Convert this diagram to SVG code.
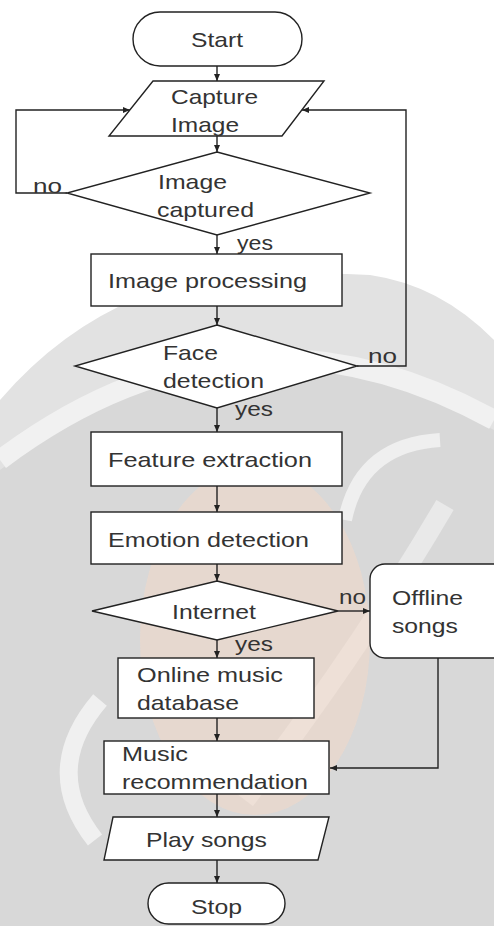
<svg xmlns="http://www.w3.org/2000/svg" width="494" height="926" viewBox="0 0 494 926">
<style>
.t{font-family:"Liberation Sans",Arial,sans-serif;font-size:21px;fill:#333}
.s{fill:#fff;stroke:#222;stroke-width:1.4}
.c{fill:none;stroke:#222;stroke-width:1.4;marker-end:url(#arr)}
</style>
<defs>
<marker id="arr" markerWidth="8" markerHeight="8" refX="7" refY="4" orient="auto" markerUnits="userSpaceOnUse"><path d="M0,1 L7,4 L0,7 Z" fill="#222"/></marker>
</defs>
<rect width="494" height="926" fill="#fff"/>
<g id="watermark">
<path d="M0,400 Q60,330 140,297 Q250,268 370,275 Q440,285 494,340 L494,926 L0,926 Z" fill="#e2e2e2"/>
<path d="M0,470 Q240,290 494,430 L494,926 L0,926 Z" fill="#d8d8d8"/>
<path d="M0,460 Q240,280 494,420" fill="none" stroke="#f1f1f1" stroke-width="20"/>
<path d="M345,520 Q360,445 440,440" fill="none" stroke="#efefef" stroke-width="14"/>
<path d="M445,505 Q360,650 245,800" fill="none" stroke="#e9e9e9" stroke-width="20"/>
<path d="M100,700 Q40,770 95,840" fill="none" stroke="#f0f0f0" stroke-width="18"/>
<ellipse cx="255" cy="640" rx="115" ry="175" fill="#f2d9c8" opacity="0.55"/>
</g>
<g id="connectors">
<path class="c" d="M217,66 V81"/>
<path class="c" d="M217,136 V152"/>
<path class="c" d="M67,193 H16 V110 H130"/>
<path class="c" d="M217,235 V254"/>
<path class="c" d="M217,306 V325"/>
<path class="c" d="M357,366 H406 V110 H302"/>
<path class="c" d="M217,408 V432"/>
<path class="c" d="M217,486 V512"/>
<path class="c" d="M217,564 V581"/>
<path class="c" d="M338,611 H370"/>
<path class="c" d="M217,640 V658"/>
<path class="c" d="M217,718 V741"/>
<path class="c" d="M438,658 V768 H330"/>
<path class="c" d="M217,794 V817"/>
<path class="c" d="M217,860 V883"/>
<text class="t" x="33" y="193" textLength="29" lengthAdjust="spacingAndGlyphs">no</text>
<text class="t" x="237" y="250" textLength="36" lengthAdjust="spacingAndGlyphs">yes</text>
<text class="t" x="368" y="363" textLength="29" lengthAdjust="spacingAndGlyphs">no</text>
<text class="t" x="235" y="416" textLength="38" lengthAdjust="spacingAndGlyphs">yes</text>
<text class="t" x="339" y="604" textLength="27" lengthAdjust="spacingAndGlyphs">no</text>
<text class="t" x="235" y="651" textLength="38" lengthAdjust="spacingAndGlyphs">yes</text>
</g>
<g id="start">
<rect class="s" x="133" y="12" width="169" height="54" rx="27"/>
<text class="t" x="191" y="47" textLength="52" lengthAdjust="spacingAndGlyphs">Start</text>
</g>
<g id="capture">
<polygon class="s" points="153,81 324,81 282,136 109,136"/>
<text class="t" x="171" y="104" textLength="87" lengthAdjust="spacingAndGlyphs">Capture</text>
<text class="t" x="171" y="132" textLength="68" lengthAdjust="spacingAndGlyphs">Image</text>
</g>
<g id="image-captured">
<polygon class="s" points="217,152 370,193 217,235 67,193"/>
<text class="t" x="158" y="189" textLength="69" lengthAdjust="spacingAndGlyphs">Image</text>
<text class="t" x="157" y="217" textLength="97" lengthAdjust="spacingAndGlyphs">captured</text>
</g>
<g id="image-processing">
<rect class="s" x="91" y="254" width="251" height="52"/>
<text class="t" x="108" y="288" textLength="199" lengthAdjust="spacingAndGlyphs">Image processing</text>
</g>
<g id="face-detection">
<polygon class="s" points="217,325 357,366 217,408 75,366"/>
<text class="t" x="163" y="360" textLength="55" lengthAdjust="spacingAndGlyphs">Face</text>
<text class="t" x="163" y="388" textLength="101" lengthAdjust="spacingAndGlyphs">detection</text>
</g>
<g id="feature-extraction">
<rect class="s" x="91" y="432" width="251" height="54"/>
<text class="t" x="108" y="467" textLength="204" lengthAdjust="spacingAndGlyphs">Feature extraction</text>
</g>
<g id="emotion-detection">
<rect class="s" x="91" y="512" width="251" height="52"/>
<text class="t" x="108" y="547" textLength="201" lengthAdjust="spacingAndGlyphs">Emotion detection</text>
</g>
<g id="internet">
<polygon class="s" points="217,581 338,611 217,640 92,611"/>
<text class="t" x="172" y="619" textLength="84" lengthAdjust="spacingAndGlyphs">Internet</text>
</g>
<g id="offline-songs">
<rect class="s" x="370" y="564" width="150" height="94" rx="15"/>
<text class="t" x="392" y="605" textLength="71" lengthAdjust="spacingAndGlyphs">Offline</text>
<text class="t" x="392" y="633" textLength="66" lengthAdjust="spacingAndGlyphs">songs</text>
</g>
<g id="online-music-database">
<rect class="s" x="118" y="658" width="196" height="60"/>
<text class="t" x="137" y="682" textLength="146" lengthAdjust="spacingAndGlyphs">Online music</text>
<text class="t" x="137" y="710" textLength="102" lengthAdjust="spacingAndGlyphs">database</text>
</g>
<g id="music-recommendation">
<rect class="s" x="104" y="741" width="225" height="53"/>
<text class="t" x="122" y="761" textLength="66" lengthAdjust="spacingAndGlyphs">Music</text>
<text class="t" x="122" y="789" textLength="186" lengthAdjust="spacingAndGlyphs">recommendation</text>
</g>
<g id="play-songs">
<polygon class="s" points="113,817 329,817 318,860 104,860"/>
<text class="t" x="146" y="847" textLength="121" lengthAdjust="spacingAndGlyphs">Play songs</text>
</g>
<g id="stop">
<rect class="s" x="148" y="883" width="137" height="41" rx="20.5"/>
<text class="t" x="191" y="914" textLength="51" lengthAdjust="spacingAndGlyphs">Stop</text>
</g>
</svg>
